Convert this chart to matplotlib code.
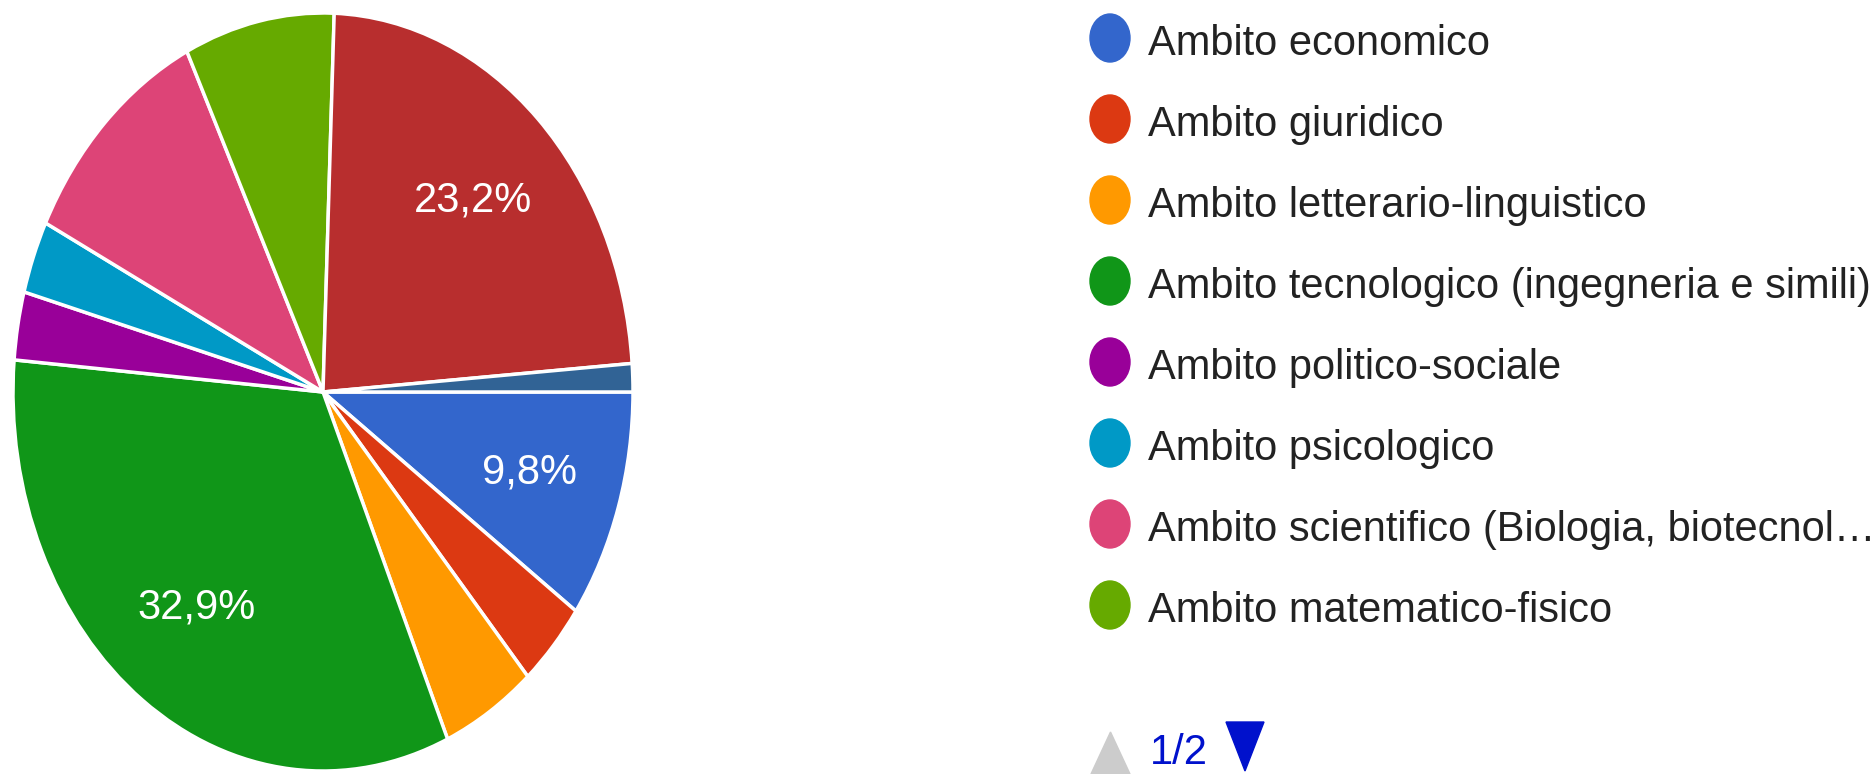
import matplotlib
matplotlib.use("Agg")
import numpy as np
import matplotlib.pyplot as plt
from matplotlib import font_manager
from matplotlib.patches import Ellipse, Polygon

# Google Forms pie, answers in percent (start at 3 o'clock, clockwise)
categories = [
    "Ambito economico",
    "Ambito giuridico",
    "Ambito letterario-linguistico",
    "Ambito tecnologico (ingegneria e simili)",
    "Ambito politico-sociale",
    "Ambito psicologico",
    "Ambito scientifico (Biologia, biotecnol\u2026",
    "Ambito matematico-fisico",
    "Altro ambito (pagina 2)",
    "Altro (pagina 2)",
]
shares = [9.8, 3.7, 4.9, 32.9, 2.9, 3.1, 10.4, 7.8, 23.2, 1.2]
colors = ["#3366cc", "#dc3912", "#ff9900", "#109618", "#990099",
          "#0099c6", "#dd4477", "#66aa00", "#b82e2e", "#316395"]
labelled = [0, 3, 8]   # slices that carry a percent label
legend_shown = 8
page_label = "1/2"

W, H = 1875, 774


def pick_font():
    try:
        font_manager.findfont("Liberation Sans Narrow", fallback_to_default=False)
        return ["Liberation Sans Narrow", "Liberation Sans", "DejaVu Sans"], 36
    except Exception:
        return ["Liberation Sans", "DejaVu Sans"], 30


family, fsize = pick_font()
plt.rcParams["font.family"] = family

fig = plt.figure(figsize=(W / 100, H / 100), dpi=100)
fig.patch.set_facecolor("white")

# pie is stretched vertically in the screenshot -> ellipse
cx, cy, rx, ry = 323, 392, 310, 379
ax = fig.add_axes([(cx - rx) / W, (H - cy - ry) / H, 2 * rx / W, 2 * ry / H])

wedges, _ = ax.pie(
    shares, colors=colors, startangle=0, counterclock=False,
    wedgeprops=dict(edgecolor="white", linewidth=2.5))
ax.set_aspect("auto")
ax.set_xlim(-1, 1)
ax.set_ylim(-1, 1)
ax.axis("off")

for i in labelled:
    w = wedges[i]
    mid = np.deg2rad((w.theta1 + w.theta2) / 2)
    txt = f"{shares[i]:.1f}%".replace(".", ",")
    ax.text(0.7 * np.cos(mid), 0.7 * np.sin(mid), txt, color="white",
            fontsize=fsize, ha="center", va="center")

# legend drawn in pixel coordinates
lg = fig.add_axes([0, 0, 1, 1])
lg.set_xlim(0, W)
lg.set_ylim(H, 0)
lg.axis("off")
lg.patch.set_alpha(0)

y0, step = 38, 81
for i in range(legend_shown):
    y = y0 + i * step
    lg.add_patch(Ellipse((1110, y), 40, 48, color=colors[i]))
    lg.text(1148, y + 17, categories[i], fontsize=fsize, color="#222222",
            va="baseline", ha="left")

# page navigation
lg.add_patch(Polygon([(1091, 774), (1130, 774), (1110.5, 732)], closed=True, color="#cccccc"))
lg.text(1150, 764, page_label, fontsize=fsize, color="#0011cc", va="baseline", ha="left")
lg.add_patch(Polygon([(1226, 722), (1264, 722), (1245, 771)], closed=True, color="#0011cc"))

fig.savefig("out.png", dpi=100)
